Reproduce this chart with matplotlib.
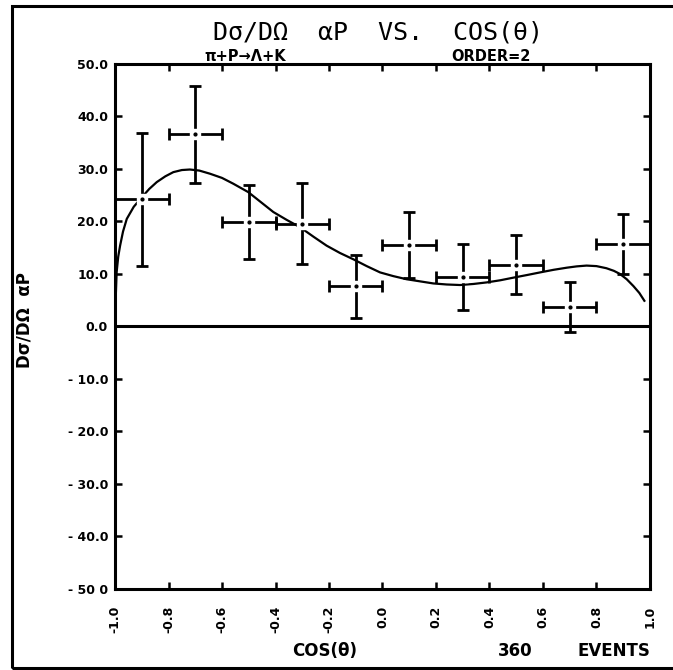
import matplotlib.pyplot as plt
from matplotlib.patches import Rectangle

# points mesurés (centres des bins en cos(theta))
cos_bins = [-0.9, -0.7, -0.5, -0.3, -0.1, 0.1, 0.3, 0.5, 0.7, 0.9]
dsig_p = [24.2, 36.6, 19.9, 19.6, 7.7, 15.5, 9.4, 11.8, 3.7, 15.7]
err_y = [12.7, 9.3, 7.1, 7.7, 6.0, 6.3, 6.3, 5.6, 4.7, 5.7]
err_x = [0.1] * 10

# courbe d'ajustement (ordre 2)
fit_x = [-1.0, -0.997, -0.994, -0.988, -0.981, -0.97, -0.956, -0.93, -0.9,
         -0.872, -0.844, -0.812, -0.782, -0.75, -0.72, -0.685, -0.645, -0.6,
         -0.558, -0.502, -0.455, -0.408, -0.358, -0.308, -0.258, -0.209,
         -0.159, -0.109, -0.059, -0.009, 0.04, 0.09, 0.14, 0.19, 0.24,
         0.29, 0.34, 0.39, 0.44, 0.489, 0.54, 0.589, 0.64, 0.689, 0.726,
         0.763, 0.8, 0.837, 0.865, 0.888, 0.913, 0.938, 0.96, 0.979]
fit_y = [0.0, 6.0, 10.3, 13.3, 15.4, 18.1, 20.5, 22.8, 24.6,
         26.2, 27.5, 28.6, 29.4, 29.8, 29.9, 29.7, 29.1, 28.3,
         27.2, 25.6, 23.7, 21.8, 20.3, 18.9, 17.1, 15.4,
         14.0, 12.8, 11.5, 10.3, 9.6, 9.0, 8.6, 8.2, 8.0,
         7.9, 8.1, 8.4, 8.8, 9.3, 9.8, 10.3, 10.8, 11.2, 11.45,
         11.6, 11.5, 11.1, 10.6, 10.0, 9.0, 7.7, 6.4, 4.9]

xticks = [-1.0, -0.8, -0.6, -0.4, -0.2, 0.0, 0.2, 0.4, 0.6, 0.8, 1.0]
xtick_labels = ["-1.0", "-0.8", "-0.6", "-0.4", "-0.2", "0.0",
                "0.2", "0.4", "0.6", "0.8", "1.0"]
yticks = [50, 40, 30, 20, 10, 0, -10, -20, -30, -40, -50]
ytick_labels = ["50.0", "40.0", "30.0", "20.0", "10.0", "0.0",
                "- 10.0", "- 20.0", "- 30.0", "- 40.0", "- 50 0"]

fig = plt.figure(figsize=(6.73, 6.70), dpi=100)
ax = fig.add_axes([0.1709, 0.1209, 0.7949, 0.7836])

# cadre extérieur
fig.patches.append(Rectangle((0.018, 0.003), 1.2, 0.988, transform=fig.transFigure,
                             fill=False, lw=2.2, color='black'))

ax.plot(fit_x, fit_y, color='black', lw=1.6, zorder=3)
ax.axhline(0, color='black', lw=2.2, zorder=2)

ax.errorbar(cos_bins, dsig_p, yerr=err_y, xerr=err_x, fmt='none',
            ecolor='black', elinewidth=2.0, capsize=4.5, capthick=2.0, zorder=4)
# petit trou au centre des croix, avec un point
ax.plot(cos_bins, dsig_p, 's', ms=7, color='white', zorder=5)
ax.plot(cos_bins, dsig_p, 'o', ms=2, color='black', zorder=6)

ax.set_xlim(-1, 1)
ax.set_ylim(-50, 50)
ax.set_xticks(xticks)
ax.set_xticklabels(xtick_labels, rotation=90, fontsize=9, fontweight='bold')
ax.set_yticks(yticks)
ax.set_yticklabels(ytick_labels, fontsize=9, fontweight='bold')
ax.tick_params(direction='in', length=5, width=1.8, top=True, right=True, pad=5)
ax.tick_params(axis='x', pad=12)
for s in ax.spines.values():
    s.set_linewidth(2.2)

fig.text(0.561, 0.951, "Dσ/DΩ  αP  VS.  COS(θ)", ha='center', va='center',
         fontsize=18, family='DejaVu Sans Mono')
fig.text(0.365, 0.915, "π+P→Λ+K", ha='center', va='center',
         fontsize=10.5, fontweight='bold')
fig.text(0.729, 0.915, "ORDER=2", ha='center', va='center',
         fontsize=10.5, fontweight='bold')
fig.text(0.037, 0.522, "Dσ/DΩ  αP", rotation=90, ha='center', va='center',
         fontsize=12, fontweight='bold')
fig.text(0.483, 0.028, "COS(θ)", ha='center', va='center',
         fontsize=12, fontweight='bold')
fig.text(0.766, 0.028, "360", ha='center', va='center',
         fontsize=12, fontweight='bold')
fig.text(0.912, 0.028, "EVENTS", ha='center', va='center',
         fontsize=12, fontweight='bold')

fig.savefig("out.png", dpi=100)
